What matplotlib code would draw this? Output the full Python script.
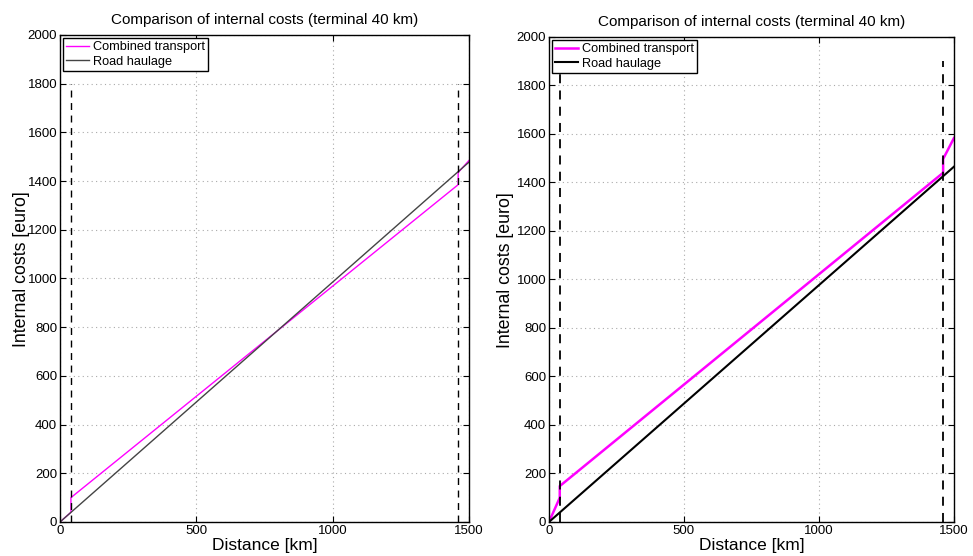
import matplotlib
matplotlib.use("Agg")
import matplotlib.pyplot as plt

plt.rcParams['font.family'] = ['Liberation Sans', 'DejaVu Sans']

# left panel values (km, euro)
left_ct_km = [0, 40, 40, 1460, 1460, 1500]
left_ct_eur = [0, 40, 100, 1385, 1435, 1485]
left_road_km = [0, 1500]
left_road_eur = [0, 1478]

# right panel values
right_ct_km = [0, 40, 40, 1460, 1460, 1500]
right_ct_eur = [0, 100, 148, 1440, 1497, 1583]
right_road_km = [0, 1500]
right_road_eur = [0, 1465]

terminals = [40, 1460]
left_dash_top = 1800
right_dash_top = 1900

title = "Comparison of internal costs (terminal 40 km)"

fig = plt.figure(figsize=(9.73, 5.56), dpi=100)
ax1 = fig.add_axes([0.0617, 0.0612, 0.4204, 0.876])
ax2 = fig.add_axes([0.5642, 0.0612, 0.4162, 0.8723])


def style(ax, ylab_x):
    ax.set_xlim(0, 1500)
    ax.set_ylim(0, 2000)
    ax.set_xticks([0, 500, 1000, 1500])
    ax.set_yticks(range(0, 2001, 200))
    ax.grid(True, linestyle=(0, (1, 3)), color='#aaaaaa', linewidth=0.8)
    ax.tick_params(direction='in', top=True, right=True, labelsize=9.5, length=4, pad=2)
    for s in ax.spines.values():
        s.set_linewidth(1.0)
    ax.set_title(title, fontsize=11, pad=8)
    ax.set_xlabel("Distance [km]", fontsize=12.5, labelpad=1)
    ax.set_ylabel("Internal costs [euro]", fontsize=12.8)
    ax.yaxis.set_label_coords(ylab_x, 0.52)


# left
ax1.plot(left_ct_km, left_ct_eur, color='#ff00ff', lw=1.0, label='Combined transport')
ax1.plot(left_road_km, left_road_eur, color='#444444', lw=1.0, label='Road haulage')
for t in terminals:
    ax1.plot([t, t], [0, left_dash_top], color='black', lw=1.0, ls=(0, (5, 4)))
style(ax1, -0.074)

# right
ax2.plot(right_ct_km, right_ct_eur, color='#ff00ff', lw=1.8, label='Combined transport')
ax2.plot(right_road_km, right_road_eur, color='black', lw=1.5, label='Road haulage')
for t in terminals:
    ax2.plot([t, t], [0, right_dash_top], color='black', lw=1.3, ls=(0, (5, 4)))
style(ax2, -0.087)

for ax in (ax1, ax2):
    leg = ax.legend(loc='upper left', fontsize=9.2, fancybox=False, framealpha=1,
                    edgecolor='black', borderpad=0.25, labelspacing=0.2,
                    handlelength=1.8, handletextpad=0.3, borderaxespad=0.25)
    leg.get_frame().set_linewidth(1.0)

fig.savefig("out.png", dpi=100)
